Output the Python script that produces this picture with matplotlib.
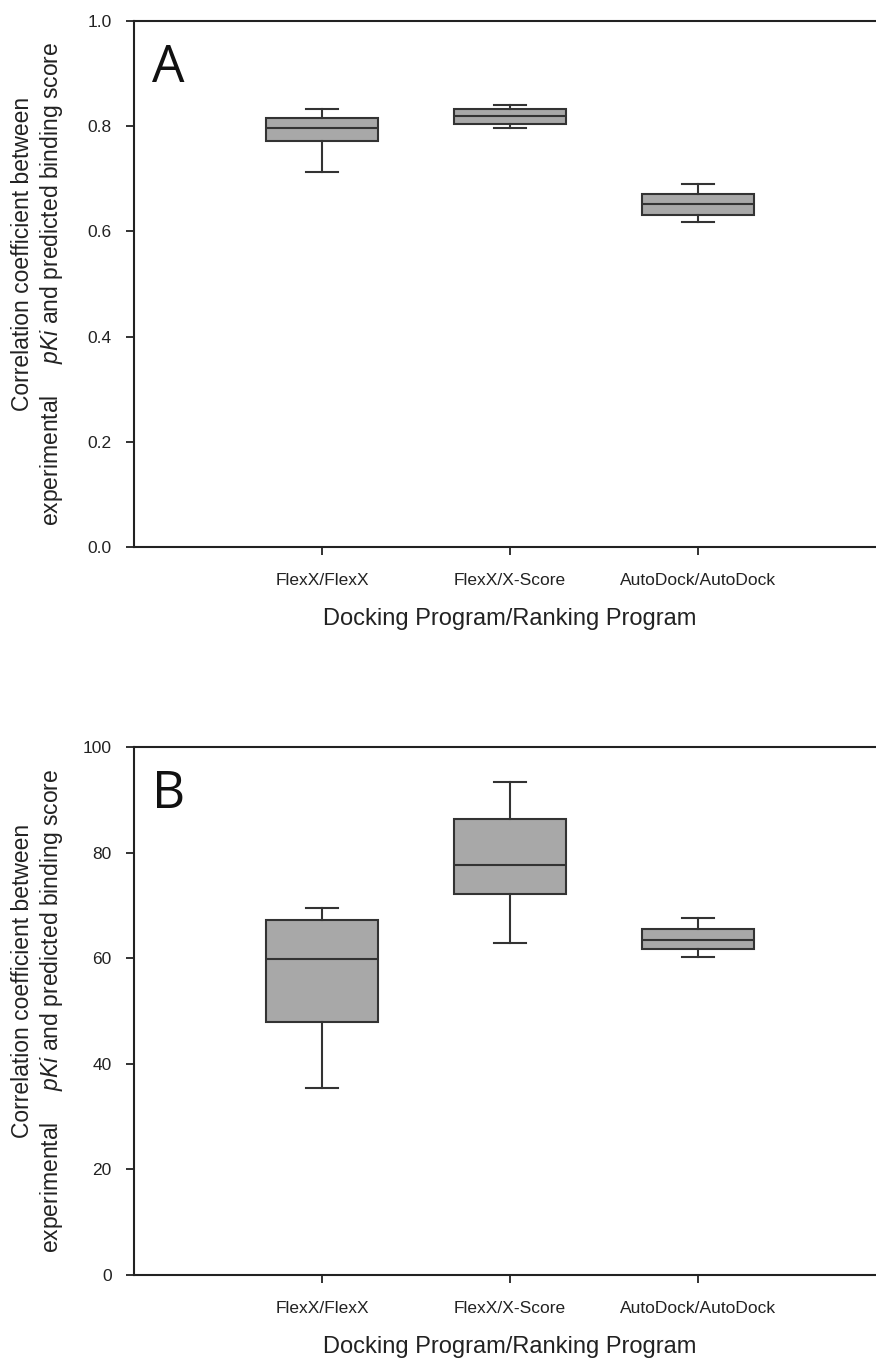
import matplotlib
matplotlib.use("Agg")
import matplotlib.pyplot as plt

plt.rcParams['font.family'] = ['Liberation Sans', 'DejaVu Sans']
plt.rcParams['mathtext.fontset'] = 'custom'
plt.rcParams['mathtext.rm'] = 'Liberation Sans'
plt.rcParams['mathtext.it'] = 'Liberation Sans:italic'

categories = ["FlexX/FlexX", "FlexX/X-Score", "AutoDock/AutoDock"]

# Panel A (correlation coefficient)
a_whislo = [0.712, 0.796, 0.617]
a_q1 = [0.772, 0.805, 0.632]
a_med = [0.7975, 0.820, 0.653]
a_q3 = [0.8165, 0.832, 0.672]
a_whishi = [0.832, 0.841, 0.690]

# Panel B
b_whislo = [35.4, 62.8, 60.3]
b_q1 = [47.9, 72.2, 61.7]
b_med = [59.9, 77.7, 63.5]
b_q3 = [67.2, 86.4, 65.6]
b_whishi = [69.6, 93.4, 67.7]

W, H = 876, 1359
fig = plt.figure(figsize=(W / 100, H / 100), dpi=100)

edge = '#333333'
fill = '#a8a8a8'


def make_stats(lo, q1, med, q3, hi):
    return [dict(whislo=l, q1=a, med=m, q3=b, whishi=h, fliers=[], label=c)
            for l, a, m, b, h, c in zip(lo, q1, med, q3, hi, categories)]


def panel(rect, stats, ylim, yticks, yfmt, letter):
    ax = fig.add_axes(rect)
    ax.bxp(stats, positions=[1, 2, 3], widths=0.6, capwidths=0.17,
           patch_artist=True, showfliers=False,
           boxprops=dict(facecolor=fill, edgecolor=edge, linewidth=1.5),
           medianprops=dict(color=edge, linewidth=1.5),
           whiskerprops=dict(color=edge, linewidth=1.5),
           capprops=dict(color=edge, linewidth=1.5))
    ax.set_xlim(0, 4)
    ax.set_ylim(*ylim)
    ax.set_yticks(yticks)
    ax.set_yticklabels([yfmt.format(v) for v in yticks])
    ax.set_xticks([1, 2, 3])
    ax.set_xticklabels(categories)
    ax.spines['right'].set_visible(False)
    for s in ['left', 'bottom', 'top']:
        ax.spines[s].set_linewidth(1.5)
        ax.spines[s].set_color('#222222')
    ax.tick_params(axis='y', direction='out', length=6, width=1.3, pad=10,
                   labelsize=12.5, colors='#222222')
    ax.tick_params(axis='x', direction='out', length=6, width=1.3, pad=13,
                   labelsize=12.5, colors='#222222')
    ax.set_xlabel("Docking Program/Ranking Program", fontsize=17,
                  labelpad=14, color='#222222')
    ax.text(0.024, 0.884, letter, transform=ax.transAxes, fontsize=37,
            family='Open Sans', va='baseline', ha='left', color='#111111')
    return ax


left = 134 / W
right_px = 134 + 4 * 188
width = (right_px - 134) / W

axA = panel([left, 1 - 547 / H, width, (547 - 21) / H],
            make_stats(a_whislo, a_q1, a_med, a_q3, a_whishi),
            (0, 1.0), [0.0, 0.2, 0.4, 0.6, 0.8, 1.0], "{:.1f}", "A")
axB = panel([left, 1 - 1275 / H, width, (1275 - 747) / H],
            make_stats(b_whislo, b_q1, b_med, b_q3, b_whishi),
            (0, 100), [0, 20, 40, 60, 80, 100], "{:d}", "B")

ylabel_1 = "Correlation coefficient between"
ylabel_2 = "experimental     $\\mathit{pKi}$ and predicted binding score"
for ycen in [(21 + 547) / 2, (747 + 1275) / 2]:
    fig.text(23 / W, 1 - (ycen - 30) / H, ylabel_1, rotation=90, ha='center',
             va='center', fontsize=16.5, color='#222222')
    fig.text(52 / W, 1 - ycen / H, ylabel_2, rotation=90, ha='center',
             va='center', fontsize=16.5, color='#222222')

fig.savefig("out.png", dpi=100)
